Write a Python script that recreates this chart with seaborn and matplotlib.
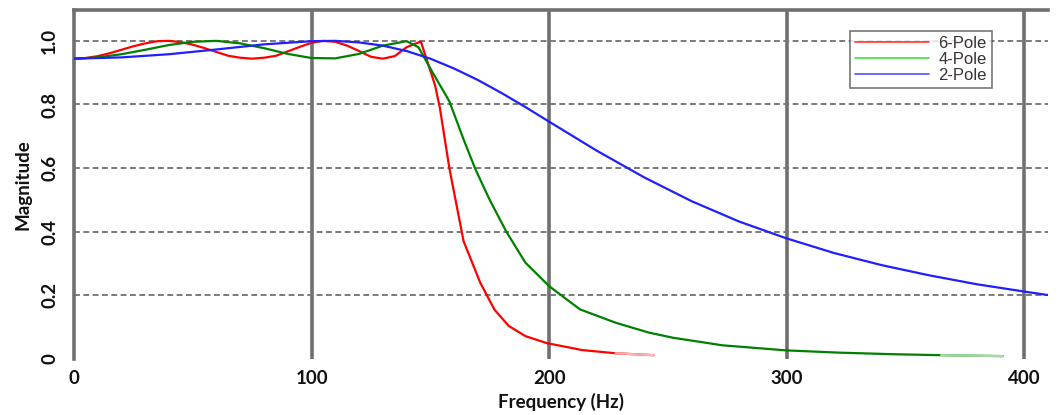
import matplotlib
matplotlib.use("Agg")
import matplotlib.pyplot as plt
from matplotlib.lines import Line2D
import seaborn as sns
import pandas as pd

# ---- data ----
freq_6pole = [0, 5, 10, 15, 20, 25, 30, 35, 40, 45, 50, 55, 60, 65, 70, 75, 80, 85, 90, 95,
              100, 105, 110, 115, 120, 125, 130, 135, 140, 146, 152, 154, 158, 164, 171, 177,
              183, 190, 199, 214, 228, 244]
mag_6pole = [0.944, 0.946, 0.952, 0.961, 0.972, 0.983, 0.992, 0.999, 1.0, 0.996, 0.988, 0.977,
             0.965, 0.953, 0.947, 0.944, 0.947, 0.953, 0.967, 0.981, 0.994, 1.0, 0.997, 0.985,
             0.968, 0.950, 0.944, 0.952, 0.980, 0.998, 0.86, 0.79, 0.60, 0.37, 0.24, 0.155,
             0.104, 0.072, 0.050, 0.028, 0.018, 0.012]

freq_4pole = [0, 10, 20, 30, 40, 50, 60, 70, 80, 90, 100, 110, 120, 130, 140, 145, 151, 158,
              164, 169, 175, 182, 190, 200, 213, 228, 242, 252, 273, 300, 322, 345, 365, 391]
mag_4pole = [0.944, 0.948, 0.958, 0.972, 0.987, 0.997, 1.0, 0.992, 0.977, 0.959, 0.946, 0.945,
             0.959, 0.985, 0.999, 0.980, 0.90, 0.81, 0.69, 0.596, 0.50, 0.40, 0.303, 0.229,
             0.156, 0.114, 0.083, 0.067, 0.043, 0.027, 0.020, 0.015, 0.012, 0.009]

freq_2pole = [0, 20, 40, 60, 80, 100, 110, 120, 130, 140, 150, 160, 170, 180, 190, 200, 220,
              240, 260, 280, 300, 320, 340, 360, 380, 400, 410]
mag_2pole = [0.944, 0.948, 0.958, 0.973, 0.989, 0.999, 1.0, 0.995, 0.985, 0.968, 0.944, 0.913,
             0.877, 0.836, 0.792, 0.746, 0.655, 0.571, 0.496, 0.432, 0.379, 0.333, 0.295,
             0.263, 0.235, 0.212, 0.201]

series_names = ["6-Pole", "4-Pole", "2-Pole"]
x_ticks = [0, 100, 200, 300, 400]
y_ticks = [0, 0.2, 0.4, 0.6, 0.8, 1.0]
y_tick_labels = ["0", "0.2", "0.4", "0.6", "0.8", "1.0"]

df = pd.concat([
    pd.DataFrame({"Frequency": freq_6pole, "Magnitude": mag_6pole, "Filter": series_names[0]}),
    pd.DataFrame({"Frequency": freq_4pole, "Magnitude": mag_4pole, "Filter": series_names[1]}),
    pd.DataFrame({"Frequency": freq_2pole, "Magnitude": mag_2pole, "Filter": series_names[2]}),
], ignore_index=True)

sns.set_theme(style="white")
plt.rcParams["font.family"] = ["Lato", "DejaVu Sans"]

fig = plt.figure(figsize=(10.62, 4.15), dpi=100)
ax = fig.add_axes([74 / 1062, 1 - 359 / 415, (1048 - 74) / 1062, (359 - 10) / 415])

palette = {"6-Pole": "#ff0000", "4-Pole": "#008000", "2-Pole": "#1f1fff"}
sns.lineplot(data=df, x="Frequency", y="Magnitude", hue="Filter", palette=palette,
             linewidth=1.6, ax=ax, legend=False, zorder=3)

# faded tails of the 6-pole and 4-pole curves (lighter overlay on the last data points)
sns.lineplot(x=freq_6pole[-2:], y=mag_6pole[-2:], color="#ffb0b0", linewidth=1.6,
             ax=ax, zorder=4)
sns.lineplot(x=freq_4pole[-2:], y=mag_4pole[-2:], color="#a8d8a8", linewidth=1.6,
             ax=ax, zorder=4)

ax.set_xlim(0, 410)
ax.set_ylim(0, 1.097)

grid_color = "#707070"
# vertical solid gridlines, horizontal dashed gridlines
for xv in x_ticks[1:]:
    ax.axvline(xv, color=grid_color, linewidth=2.6, zorder=1)
for yv in y_ticks[1:]:
    ax.axhline(yv, color="#7a7a7a", linewidth=1.4, linestyle=(0, (3, 1.8)), zorder=1)

for side in ["right", "bottom"]:
    ax.spines[side].set_visible(False)
for side in ["left", "top"]:
    ax.spines[side].set_color(grid_color)
    ax.spines[side].set_linewidth(2.6)

tick_font = 13.5
ax.set_xticks(x_ticks)
ax.set_xticklabels([str(v) for v in x_ticks], fontweight="bold", fontsize=tick_font,
                   color="#111111")
ax.set_yticks(y_ticks)
ax.set_yticklabels(y_tick_labels, fontweight="bold", fontsize=tick_font, rotation=90,
                   va="center", color="#111111")
ax.tick_params(axis="both", length=0)
ax.tick_params(axis="x", pad=8)
ax.tick_params(axis="y", pad=11.5)

ax.set_xlabel("Frequency (Hz)", fontweight="bold", fontsize=tick_font, color="#111111",
              labelpad=4)
ax.set_ylabel("Magnitude", fontweight="bold", fontsize=tick_font, color="#111111",
              labelpad=7)

legend_colors = ["#ff3030", "#40e040", "#5050ff"]
handles = [Line2D([0], [0], color=c, linewidth=1.2) for c in legend_colors]
leg = ax.legend(handles, series_names, loc="upper left", bbox_to_anchor=(0.797, 0.94),
                prop={"family": "Liberation Sans", "size": 12}, frameon=True,
                fancybox=False, handlelength=4.4, handletextpad=0.6, labelspacing=0.05,
                borderpad=0.3, borderaxespad=0)
leg.get_frame().set_edgecolor("#555555")
leg.get_frame().set_linewidth(1.2)
for t in leg.get_texts():
    t.set_color("#3a3333")
leg.set_zorder(5)

fig.savefig("out.png", dpi=100)
